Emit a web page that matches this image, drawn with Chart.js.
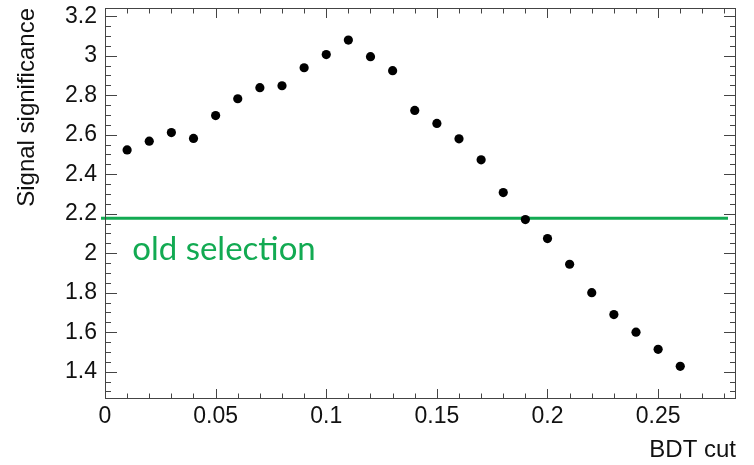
<!DOCTYPE html>
<html>
<head>
<meta charset="utf-8">
<script src="https://cdn.jsdelivr.net/npm/chart.js@4/dist/chart.umd.min.js"></script>
<style>
html,body{margin:0;padding:0;background:#fff;}
#wrap{width:754px;height:465px;}
</style>
</head>
<body>
<div id="wrap"><canvas id="sigChart" width="754" height="465"></canvas></div>
<script>
// data
var bdtCut = [0.01, 0.02, 0.03, 0.04, 0.05, 0.06, 0.07, 0.08, 0.09, 0.10, 0.11, 0.12, 0.13,
              0.14, 0.15, 0.16, 0.17, 0.18, 0.19, 0.20, 0.21, 0.22, 0.23, 0.24, 0.25, 0.26];
var significance = [2.523, 2.567, 2.611, 2.581, 2.697, 2.782, 2.838, 2.848, 2.939, 3.006, 3.079, 2.995, 2.924,
                    2.723, 2.657, 2.579, 2.473, 2.307, 2.170, 2.074, 1.944, 1.800, 1.689, 1.600, 1.513, 1.427];
var oldSelection = 2.177;
var oldSelLabel = 'old selection';

var xTicks = [0, 0.05, 0.1, 0.15, 0.2, 0.25];
var yTicks = [1.4, 1.6, 1.8, 2.0, 2.2, 2.4, 2.6, 2.8, 3.0, 3.2];
var xRange = [0, 0.2852];
var yRange = [1.2616, 3.2416];

var labelAt = {x: 0.0123, y: 1.966};
var green = '#12aa52';
var txtFont = '"Liberation Sans", Arial, Helvetica, sans-serif';

function fmt(v) { return String(+v.toFixed(2)); }

// ROOT-like frame with inward ticks on all four sides
var frameTicks = {
	id: 'frameTicks',
	afterDraw: function (chart) {
		var ctx = chart.ctx, a = chart.chartArea;
		var xs = chart.scales.x, ys = chart.scales.y;
		ctx.save();
		ctx.strokeStyle = '#444';
		ctx.lineWidth = 1;
		ctx.strokeRect(a.left + 0.5, a.top + 0.5, a.right - a.left - 1, a.bottom - a.top - 1);
		ctx.beginPath();
		for (var i = 0; i <= 28; i++) {
			var px = Math.round(xs.getPixelForValue(i * 0.01)) + 0.5;
			var len = (i % 5 === 0) ? 10 : 5.5;
			ctx.moveTo(px, a.bottom); ctx.lineTo(px, a.bottom - len);
			ctx.moveTo(px, a.top); ctx.lineTo(px, a.top + len);
		}
		for (var k = 26; k <= 64; k++) {
			var py = Math.round(ys.getPixelForValue(k * 0.05)) + 0.5;
			var l2 = (k % 4 === 0) ? 12 : 6;
			ctx.moveTo(a.left, py); ctx.lineTo(a.left + l2, py);
			ctx.moveTo(a.right, py); ctx.lineTo(a.right - l2, py);
		}
		ctx.stroke();
		ctx.restore();
	}
};

var oldSelLine = {
	id: 'oldSelLine',
	beforeDatasetsDraw: function (chart) {
		var ctx = chart.ctx, a = chart.chartArea, ys = chart.scales.y, xs = chart.scales.x;
		var py = ys.getPixelForValue(oldSelection);
		ctx.save();
		ctx.strokeStyle = green;
		ctx.lineWidth = 3;
		ctx.beginPath();
		ctx.moveTo(a.left - 4, py);
		ctx.lineTo(a.right - 8, py);
		ctx.stroke();
		ctx.fillStyle = green;
		ctx.font = '33px Lato, "Noto Sans", sans-serif';
		ctx.textBaseline = 'alphabetic';
		ctx.fillText(oldSelLabel, xs.getPixelForValue(labelAt.x), ys.getPixelForValue(labelAt.y));
		ctx.restore();
	}
};

new Chart(document.getElementById('sigChart'), {
	type: 'scatter',
	data: {
		datasets: [{
			label: 'Signal significance',
			data: bdtCut.map(function (x, i) { return {x: x, y: significance[i]}; }),
			backgroundColor: '#000',
			borderColor: '#000',
			pointRadius: 4.6,
			pointHoverRadius: 4.6,
			pointBorderWidth: 0
		}]
	},
	options: {
		responsive: false,
		animation: false,
		layout: { padding: { left: 0, right: 18, top: 8, bottom: 0 } },
		plugins: { legend: { display: false }, tooltip: { enabled: false } },
		scales: {
			x: {
				type: 'linear',
				min: xRange[0], max: xRange[1],
				grid: { display: false, drawTicks: false },
				border: { display: false },
				afterBuildTicks: function (s) { s.ticks = xTicks.map(function (v) { return {value: v}; }); },
				afterFit: function (s) { s.height = 66; s.paddingLeft = 0; s.paddingRight = 0; },
				ticks: {
					callback: fmt, padding: 4, maxRotation: 0, autoSkip: false,
					color: '#111', font: { family: txtFont, size: 23 }
				},
				title: {
					display: true, text: 'BDT cut', align: 'end', color: '#111',
					font: { family: txtFont, size: 24 }, padding: { top: 0, bottom: 0 }
				}
			},
			y: {
				type: 'linear',
				min: yRange[0], max: yRange[1],
				grid: { display: false, drawTicks: false },
				border: { display: false },
				afterBuildTicks: function (s) { s.ticks = yTicks.map(function (v) { return {value: v}; }); },
				afterFit: function (s) { s.width = 105; s.paddingTop = 0; s.paddingBottom = 0; },
				ticks: {
					callback: fmt, padding: 8, autoSkip: false,
					color: '#111', font: { family: txtFont, size: 23 }
				},
				title: {
					display: true, text: 'Signal significance', align: 'end', color: '#111',
					font: { family: txtFont, size: 24 }, padding: { top: 13, bottom: 0 }
				}
			}
		}
	},
	plugins: [oldSelLine, frameTicks]
});
</script>
</body>
</html>
